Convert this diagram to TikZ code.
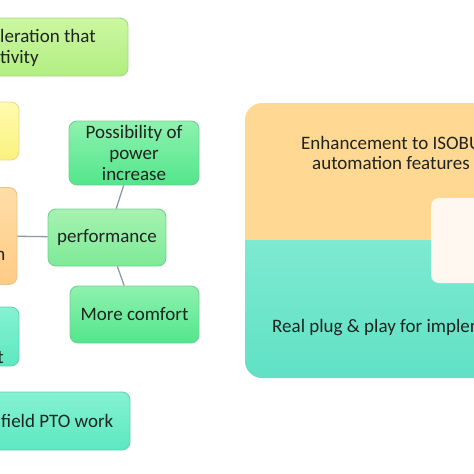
\documentclass[tikz,border=0pt]{standalone}
\usepackage{fontspec}
\setmainfont{Carlito}
\usepackage{xcolor}
\definecolor{ink}{HTML}{1E2420}
\definecolor{link}{HTML}{8C9AA6}
\definecolor{limetop}{HTML}{CBF7A0}
\definecolor{limebot}{HTML}{B2EE82}
\definecolor{limeline}{HTML}{A3D98A}
\definecolor{yeltop}{HTML}{FFFBAE}
\definecolor{yelbot}{HTML}{FAF27E}
\definecolor{yelline}{HTML}{E6DC8C}
\definecolor{peachtop}{HTML}{FFDDA8}
\definecolor{peachbot}{HTML}{FFCB84}
\definecolor{peachline}{HTML}{E8C48E}
\definecolor{greentop}{HTML}{8EF2AE}
\definecolor{greenbot}{HTML}{52E68C}
\definecolor{greenline}{HTML}{72CF94}
\definecolor{mintop}{HTML}{A6F2B0}
\definecolor{minbot}{HTML}{7EEA98}
\definecolor{tealtop}{HTML}{86F2D2}
\definecolor{tealbot}{HTML}{5CE8C0}
\definecolor{tealline}{HTML}{6CCFB0}
\definecolor{bigpeach}{HTML}{FFD893}
\definecolor{bigteal}{HTML}{66E6C9}
\definecolor{inner}{HTML}{FFF8F0}

\begin{document}
\begin{tikzpicture}[x=1pt,y=-1pt,
		box/.style={rectangle,rounded corners=8pt,line width=0.9pt,inner sep=0pt,align=center,text=ink,font=\fontsize{19}{21}\selectfont},
		txt/.style={inner sep=0pt,text=ink,font=\fontsize{19}{21}\selectfont},
		link/.style={draw=link,line width=1.3pt}]
	\useasboundingbox (0,0) rectangle (474,474);
	\clip (0,0) rectangle (474,474);
	
	% left column, cut at the border
	\node[box,draw=limeline,top color=limetop,bottom color=limebot,minimum width=148pt,minimum height=58pt] (prod) at (54,47) {};
	\node[txt,anchor=base west] (prodA) at (0,42) {leration that};
	\node[txt,anchor=base west] (prodB) at (0,63) {tivity};
	\node[box,draw=yelline,top color=yeltop,bottom color=yelbot,minimum width=39pt,minimum height=58pt] (yel) at (-0.5,131) {};
	\node[box,draw=peachline,top color=peachtop,bottom color=peachbot,minimum width=37pt,minimum height=97pt] (peach) at (-1.5,236) {};
	\node[txt,anchor=base east] (peachT) at (5.5,260) {n};
	\node[box,draw=tealline,top color=tealtop,bottom color=tealbot,minimum width=39pt,minimum height=59pt] (teal) at (-0.5,336.5) {};
	\node[txt,anchor=base east] (tealT) at (4,363) {t};
	\node[box,draw=tealline,top color=tealtop,bottom color=tealbot,minimum width=150pt,minimum height=58pt] (pto) at (55,421) {};
	\node[txt,anchor=base west] (ptoT) at (1,427) {field PTO work};
	
	% performance branch
	\node[box,draw=greenline,top color=mintop,bottom color=minbot,minimum width=118pt,minimum height=57pt] (perf) at (107,237.5) {performance};
	\node[box,draw=greenline,top color=greentop,bottom color=greenbot,minimum width=130pt,minimum height=64pt] (power) at (134,153) {Possibility of\\power\\increase};
	\node[box,draw=greenline,top color=greentop,bottom color=greenbot,minimum width=129pt,minimum height=57pt] (comfort) at (134.5,314.5) {More comfort};
	
	\draw[link] (peach) -- (perf);
	\draw[link] (power) -- (perf);
	\draw[link] (perf) -- (comfort);
	
	% right panel
	\begin{scope}
		\clip[rounded corners=17pt] (245,103) rectangle (494,378);
		\fill[bigpeach] (245,103) rectangle (494,240);
		\shade[top color=bigteal!85!white,bottom color=bigteal!95!teal] (245,240) rectangle (494,378);
	\end{scope}
	\fill[inner,rounded corners=8pt] (431,198) rectangle (494,283);
	\node[txt,anchor=base west] (isoA) at (301,149) {Enhancement to ISOBU};
	\node[txt,anchor=base west] (isoB) at (312,169) {automation features};
	\node[txt,anchor=base west] (plug) at (272,332) {Real plug \& play for implem};
\end{tikzpicture}
\end{document}
